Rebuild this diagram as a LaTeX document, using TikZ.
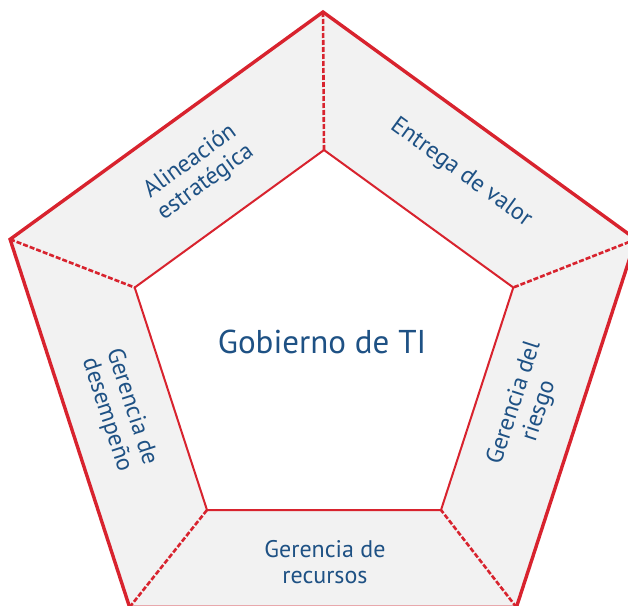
\documentclass[tikz,border=0pt]{standalone}
\usepackage{fontspec}
\setmainfont{PT Sans}
\definecolor{pred}{HTML}{D8232E}
\definecolor{pblue}{HTML}{1E5184}
\definecolor{pgray}{HTML}{F2F2F2}
\begin{document}
\begin{tikzpicture}[x=1pt,y=-1pt,
  outerline/.style={draw=pred,line width=3.4pt,line join=miter},
  innerline/.style={draw=pred,line width=2pt,line join=miter},
  spoke/.style={draw=pred,line width=2.6pt,dash pattern=on 5pt off 2pt},
  band/.style={text=pblue,font=\fontsize{24}{26}\selectfont,align=center,inner sep=0pt},
  center/.style={text=pblue,font=\fontsize{33}{36}\selectfont,inner sep=0pt}]
\useasboundingbox (0,0) rectangle (628,605);
\clip (0,0) rectangle (628,605);
% outer vertices
\coordinate (OT) at (323,12);
\coordinate (OL) at (10.1,239.3);
\coordinate (OBL) at (129.6,607.2);
\coordinate (OBR) at (516.4,607.2);
\coordinate (OR) at (635.9,239.3);
% inner vertices
\coordinate (IT) at (324,150);
\coordinate (IL) at (134.7,287.5);
\coordinate (IBL) at (207,510);
\coordinate (IBR) at (441,510);
\coordinate (IR) at (513.3,287.5);
\fill[pgray] (OT) -- (OR) -- (OBR) -- (OBL) -- (OL) -- cycle;
\fill[white] (IT) -- (IR) -- (IBR) -- (IBL) -- (IL) -- cycle;
\draw[spoke] (OT) -- (IT);
\draw[spoke] (OL) -- (IL);
\draw[spoke] (OR) -- (IR);
\draw[spoke] (OBL) -- (IBL);
\draw[spoke] (OBR) -- (IBR);
\draw[innerline] (IT) -- (IR) -- (IBR) -- (IBL) -- (IL) -- cycle;
\draw[outerline] (OT) -- (OR) -- (OBR) -- (OBL) -- (OL) -- cycle;
\node[center] (gob) at (322,342) {Gobierno de TI};
\node[band,rotate=36] (ali) at (198,172) {Alineación\\estratégica};
\node[band,rotate=-36] (ent) at (461,173) {Entrega de valor};
\node[band,rotate=-72] (des) at (119,411) {Gerencia de\\desempeño};
\node[band,rotate=72] (rie) at (527,407) {Gerencia del\\riesgo};
\node[band] (rec) at (325,562) {Gerencia de\\recursos};
\end{tikzpicture}
\end{document}
